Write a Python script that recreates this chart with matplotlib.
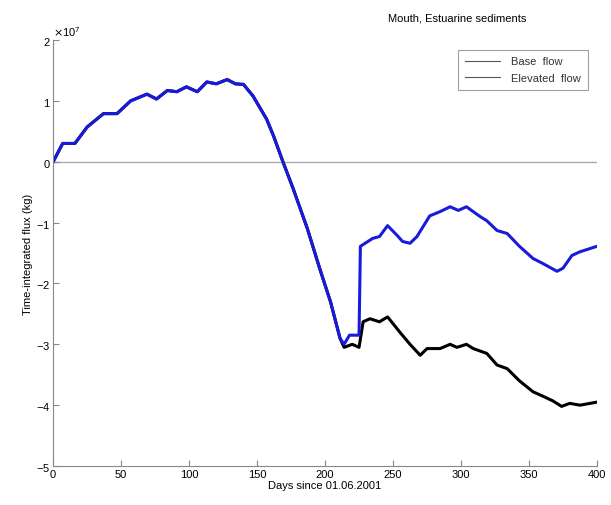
import matplotlib.pyplot as plt
from matplotlib.ticker import ScalarFormatter

plt.rcParams['font.family'] = ['Liberation Sans', 'DejaVu Sans']
plt.rcParams['axes.unicode_minus'] = False

# values, flux in units of 1e7 kg
common_days = [0, 7, 16, 25, 37, 47, 57, 69, 76, 84, 91, 98, 106, 113, 120, 128,
               134, 140, 147, 157, 162, 169, 176.5, 187, 196, 204, 211]
common_flux = [0, 0.3, 0.3, 0.57, 0.79, 0.79, 1.0, 1.11, 1.03, 1.17, 1.15, 1.23, 1.15,
               1.31, 1.28, 1.35, 1.28, 1.27, 1.08, 0.7, 0.43, 0.0, -0.44, -1.1, -1.75,
               -2.3, -2.9]

base_days = [214, 220, 225, 228, 233, 240, 246, 255, 262.5, 270, 275, 284.6, 292, 297,
             304, 309, 319, 326.5, 334, 343, 353, 360, 367.6, 374, 380, 387.5, 400]
base_flux = [-3.05, -3.0, -3.05, -2.63, -2.58, -2.63, -2.55, -2.8, -3.0, -3.18, -3.07,
             -3.07, -3.0, -3.05, -3.0, -3.07, -3.15, -3.34, -3.4, -3.6, -3.78, -3.85,
             -3.93, -4.02, -3.97, -4.0, -3.95]

elev_days = [214, 218, 222, 225, 226, 235, 240, 246, 253, 257, 262.5, 267.6, 277, 284.6,
             292, 298, 304, 314, 319, 326.5, 334, 343, 353, 360, 370.6, 375, 381.6,
             387.5, 400]
elev_flux = [-3.0, -2.85, -2.85, -2.85, -1.39, -1.26, -1.23, -1.05, -1.21, -1.31, -1.34,
             -1.23, -0.89, -0.82, -0.74, -0.8, -0.74, -0.9, -0.97, -1.13, -1.18, -1.39,
             -1.59, -1.67, -1.8, -1.75, -1.54, -1.48, -1.39]

scale = 1e7
base_x = common_days + base_days
base_y = [v * scale for v in common_flux + base_flux]
elev_x = common_days + elev_days
elev_y = [v * scale for v in common_flux + elev_flux]

fig = plt.figure(figsize=(6.11, 5.06), dpi=100)
ax = fig.add_axes([0.087, 0.077, 0.89, 0.842])

ax.axhline(0, color='#aaaaaa', lw=1, zorder=1)
ax.plot(base_x, base_y, color='black', lw=2.2, label='Base  flow')
ax.plot(elev_x, elev_y, color='#1a1adc', lw=2.2, label='Elevated  flow')

ax.set_xlim(0, 400)
ax.set_ylim(-5e7, 2e7)
ax.set_xticks(range(0, 401, 50))
ax.set_yticks([i * 1e7 for i in range(-5, 3)])

fmt = ScalarFormatter(useMathText=True)
fmt.set_powerlimits((0, 0))
ax.yaxis.set_major_formatter(fmt)

for s in ['top', 'right']:
    ax.spines[s].set_visible(False)
for s in ['left', 'bottom']:
    ax.spines[s].set_color('#888888')
ax.tick_params(direction='in', length=4, color='#888888', labelsize=8, pad=2)
ax.yaxis.get_offset_text().set_fontsize(8)

ax.set_xlabel('Days since 01.06.2001', fontsize=8, labelpad=1)
ax.set_ylabel('Time-integrated flux (kg)', fontsize=8, labelpad=2)
fig.text(0.748, 0.963, 'Mouth, Estuarine sediments', fontsize=8, ha='center', va='center')

leg_handles = [plt.Line2D([], [], color='#555555', lw=0.8),
               plt.Line2D([], [], color='#555555', lw=0.8)]
leg = ax.legend(leg_handles, ['Base  flow', 'Elevated  flow'], loc='upper right',
                bbox_to_anchor=(0.993, 0.99), fontsize=8, frameon=True, fancybox=False,
                edgecolor='#888888', handlelength=3.2, handletextpad=1.0,
                borderpad=0.6, labelspacing=0.6)
leg.get_frame().set_linewidth(0.8)
for t in leg.get_texts():
    t.set_color('#333333')

fig.savefig('out.png', dpi=100)
